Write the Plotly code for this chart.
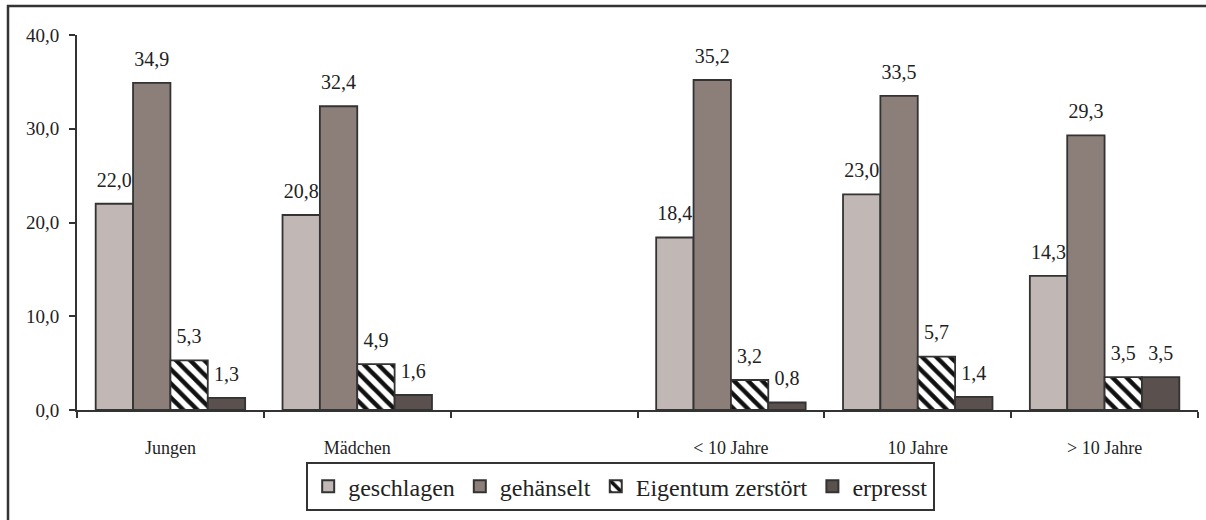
import plotly.graph_objects as go

categories = ["Jungen", "Mädchen", "", "< 10 Jahre", "10 Jahre", "> 10 Jahre"]
cat_keys = ["Jungen", "Mädchen", "blank", "lt10", "eq10", "gt10"]
tick_labels = ["Jungen", "Mädchen", "", "&lt; 10 Jahre", "10 Jahre", "&gt; 10 Jahre"]

geschlagen = [22.0, 20.8, None, 18.4, 23.0, 14.3]
gehaenselt = [34.9, 32.4, None, 35.2, 33.5, 29.3]
eigentum = [5.3, 4.9, None, 3.2, 5.7, 3.5]
erpresst = [1.3, 1.6, None, 0.8, 1.4, 3.5]

series = [
    ("geschlagen", geschlagen, "#C1B7B4", None),
    ("gehänselt", gehaenselt, "#8C7F7A", None),
    ("Eigentum zerstört", eigentum, "#FFFFFF", "\\"),
    ("erpresst", erpresst, "#5A514E", None),
]

FONT = "Liberation Serif, serif"
EDGE = "#333333"
TXT = "#222222"

fig = go.Figure()
for i, (name, vals, color, shape) in enumerate(series):
    marker = dict(color=color, line=dict(color=EDGE, width=1.8))
    if shape:
        marker["pattern"] = dict(shape=shape, fgcolor="#111111", bgcolor="#FFFFFF",
                                 size=10, solidity=0.45, fillmode="replace")
    fig.add_trace(go.Bar(
        x=cat_keys, y=vals, name=name, marker=marker,
        offsetgroup=str(i), hoverinfo="skip",
    ))
for i, (name, vals, color, shape) in enumerate(series):
    fig.add_trace(go.Scatter(
        x=cat_keys, y=vals, mode="markers+text", showlegend=False,
        offsetgroup=str(i), hoverinfo="skip",
        marker=dict(size=18, opacity=0),
        text=[("%.1f" % v).replace(".", ",") if v is not None else "" for v in vals],
        textposition="top center",
        textfont=dict(family=FONT, size=20, color=TXT),
        cliponaxis=False,
    ))

fig.update_layout(
    width=1206, height=520,
    margin=dict(l=77, r=8, t=35, b=110),
    paper_bgcolor="white", plot_bgcolor="white",
    barmode="group", bargap=0.2, bargroupgap=0,
    scattermode="group", scattergap=0.2,
    separators=",.",
    font=dict(family=FONT, color=TXT),
    showlegend=True,
    legend=dict(
        orientation="h", x=0.485, xanchor="center", y=-0.139, yanchor="top",
        font=dict(family=FONT, size=24, color=TXT),
        bordercolor=EDGE, borderwidth=2, bgcolor="white",
        itemsizing="constant", tracegroupgap=0, itemwidth=30,
    ),
    xaxis=dict(
        type="category", categoryorder="array", categoryarray=cat_keys,
        tickvals=cat_keys, ticktext=tick_labels,
        tickson="boundaries", ticks="outside", ticklen=6, tickwidth=2, tickcolor=EDGE,
        showline=True, linecolor=EDGE, linewidth=2, showgrid=False,
        tickfont=dict(family=FONT, size=18, color=TXT),
        ticklabelstandoff=20,
    ),
    yaxis=dict(
        range=[0, 40], tickvals=[0, 10, 20, 30, 40], tickformat=".1f",
        ticks="outside", ticklen=6, tickwidth=2, tickcolor=EDGE,
        showline=True, linecolor=EDGE, linewidth=2, showgrid=False, zeroline=False,
        tickfont=dict(family=FONT, size=19, color=TXT),
        ticklabelstandoff=6,
    ),
    shapes=[dict(
        type="rect", xref="paper", yref="paper",
        x0=(8 - 77) / 1121, x1=1.05, y0=-0.4, y1=(410 - 6) / 375,
        line=dict(color=EDGE, width=2.5), fillcolor="rgba(0,0,0,0)", layer="below",
    )],
)

fig.write_html(
    "out.html",
    config={"displayModeBar": False},
    post_script="document.body.style.margin='0';document.body.style.overflow='hidden';",
)
